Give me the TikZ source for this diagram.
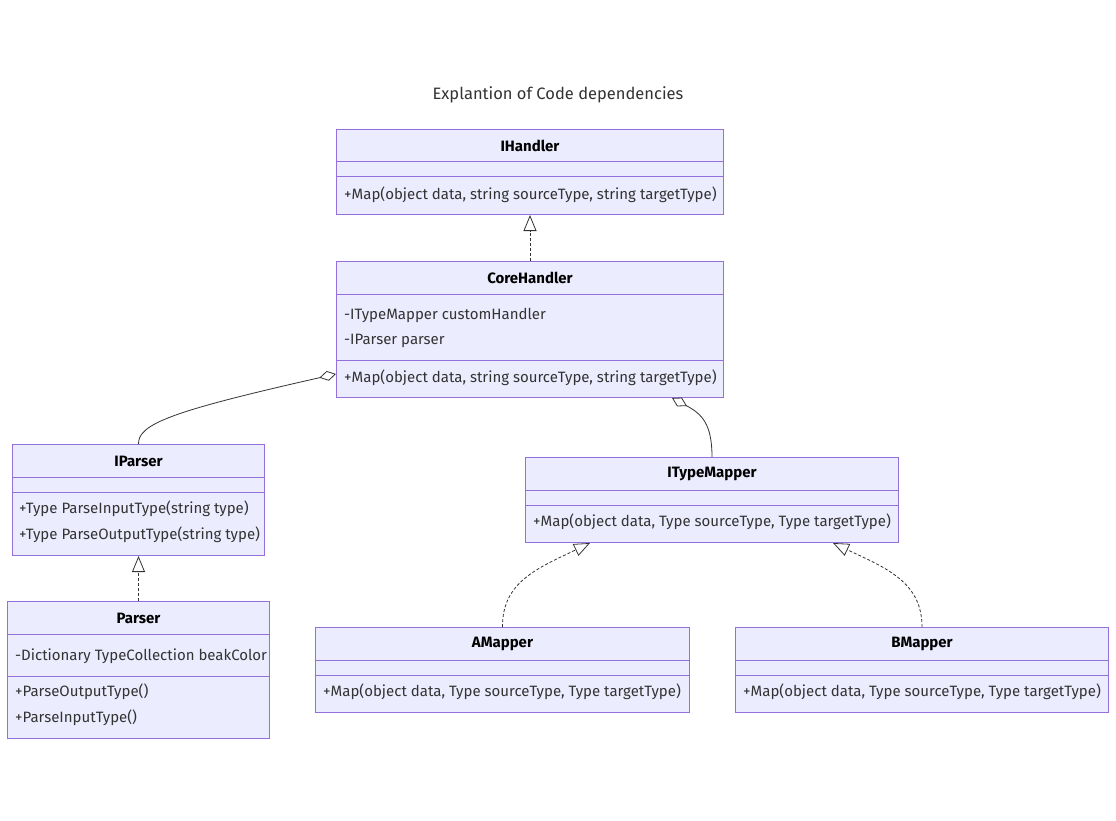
\documentclass[tikz,border=0pt]{standalone}
\usepackage{fontspec}
\setmainfont{Fira Sans}
\usetikzlibrary{positioning,calc,arrows.meta}
\definecolor{classfill}{HTML}{ECECFF}
\definecolor{classline}{HTML}{9370DB}
\definecolor{edgeline}{HTML}{333333}
\newcommand{\classsep}[2]{\draw[divider] ($(#1.north west)+(0,#2)$) -- ($(#1.north east)+(0,#2)$);}

\begin{document}
\begin{tikzpicture}[
      x=1pt, y=-1pt, % <-- ONE UNIT PER PIXEL, Y GOING DOWN
      classbox/.style={draw=classline, fill=classfill, anchor=north west, inner sep=0pt, line width=1pt},
      classname/.style={font=\bfseries\fontsize{15}{17}\selectfont, text=black, inner sep=0pt},
      member/.style={anchor=west, inner sep=0pt, font=\fontsize{15}{17}\selectfont, text=edgeline},
      divider/.style={draw=classline, line width=1pt},
      realize/.style={draw=edgeline, line width=0.8pt, dash pattern=on 3pt off 2pt, -{Triangle[open, length=16pt, width=13pt, fill=white]}},
      aggregate/.style={draw=edgeline, line width=0.8pt, -{Diamond[open, length=17pt, width=10pt, fill=white]}}
    ]

    \useasboundingbox[fill=white] (0,0) rectangle (1116,821);

    \node[font=\fontsize{16.5}{19}\selectfont, text=edgeline] (title) at (558,95) {Explantion of Code dependencies};

    % Class boxes
    \node[classbox, minimum width=387pt, minimum height=85pt] (ihandler) at (336,129) {};
    \node[classbox, minimum width=387pt, minimum height=136pt] (corehandler) at (336,261) {};
    \node[classbox, minimum width=252pt, minimum height=111pt] (iparser) at (12,444) {};
    \node[classbox, minimum width=262pt, minimum height=137pt] (parser) at (7,601) {};
    \node[classbox, minimum width=373pt, minimum height=85pt] (itypemapper) at (525,457) {};
    \node[classbox, minimum width=374pt, minimum height=85pt] (amapper) at (315,627) {};
    \node[classbox, minimum width=373pt, minimum height=85pt] (bmapper) at (735,627) {};

    % Compartments
    \classsep{ihandler}{33} \classsep{ihandler}{48}
    \classsep{corehandler}{33} \classsep{corehandler}{99}
    \classsep{iparser}{33} \classsep{iparser}{48}
    \classsep{parser}{33} \classsep{parser}{75}
    \classsep{itypemapper}{33} \classsep{itypemapper}{48}
    \classsep{amapper}{33} \classsep{amapper}{48}
    \classsep{bmapper}{33} \classsep{bmapper}{48}

    % Names and members
    \node[classname] (ihandlerN) at ($(ihandler.north)+(0,17)$) {IHandler};
    \node[member] (ihandlerM) at ($(ihandler.north west)+(8,66)$) {+Map(object data, string sourceType, string targetType)};

    \node[classname] (corehandlerN) at ($(corehandler.north)+(0,17)$) {CoreHandler};
    \node[member] (corehandlerA1) at ($(corehandler.north west)+(8,54)$) {-ITypeMapper customHandler};
    \node[member] (corehandlerA2) at ($(corehandler.north west)+(8,80)$) {-IParser parser};
    \node[member] (corehandlerM) at ($(corehandler.north west)+(8,117)$) {+Map(object data, string sourceType, string targetType)};

    \node[classname] (iparserN) at ($(iparser.north)+(0,17)$) {IParser};
    \node[member] (iparserM1) at ($(iparser.north west)+(7,65)$) {+Type ParseInputType(string type)};
    \node[member] (iparserM2) at ($(iparser.north west)+(7,91)$) {+Type ParseOutputType(string type)};

    \node[classname] (parserN) at ($(parser.north)+(0,17)$) {Parser};
    \node[member] (parserA) at ($(parser.north west)+(8,55)$) {-Dictionary TypeCollection beakColor};
    \node[member] (parserM1) at ($(parser.north west)+(8,91)$) {+ParseOutputType()};
    \node[member] (parserM2) at ($(parser.north west)+(8,117)$) {+ParseInputType()};

    \node[classname] (itypemapperN) at ($(itypemapper.north)+(0,17)$) {ITypeMapper};
    \node[member] (itypemapperM) at ($(itypemapper.north west)+(8,65)$) {+Map(object data, Type sourceType, Type targetType)};

    \node[classname] (amapperN) at ($(amapper.north)+(0,17)$) {AMapper};
    \node[member] (amapperM) at ($(amapper.north west)+(8,65)$) {+Map(object data, Type sourceType, Type targetType)};

    \node[classname] (bmapperN) at ($(bmapper.north)+(0,17)$) {BMapper};
    \node[member] (bmapperM) at ($(bmapper.north west)+(8,65)$) {+Map(object data, Type sourceType, Type targetType)};

    % Relations
    \coordinate (aggParser) at ($(corehandler.south west)+(0,-24)$);
    \coordinate (aggMapper) at ($(corehandler.south west)+(336,0)$);
    \coordinate (realA) at ($(itypemapper.south west)+(65,0)$);
    \coordinate (realB) at ($(itypemapper.south west)+(308,0)$);

    \draw[realize] (corehandler.north) -- (ihandler.south);
    \draw[realize] (parser.north) -- (iparser.south);
    \draw[aggregate] (iparser.north) .. controls (138,424) and (172,411) .. (aggParser);
    \draw[aggregate] ($(itypemapper.north west)+(187,0)$) .. controls (712,424) and (702,414) .. (aggMapper);
    \draw[realize] (amapper.north) .. controls (502,582) and (538,568) .. (realA);
    \draw[realize] (bmapper.north) .. controls (922,582) and (886,568) .. (realB);

  \end{tikzpicture}
\end{document}
